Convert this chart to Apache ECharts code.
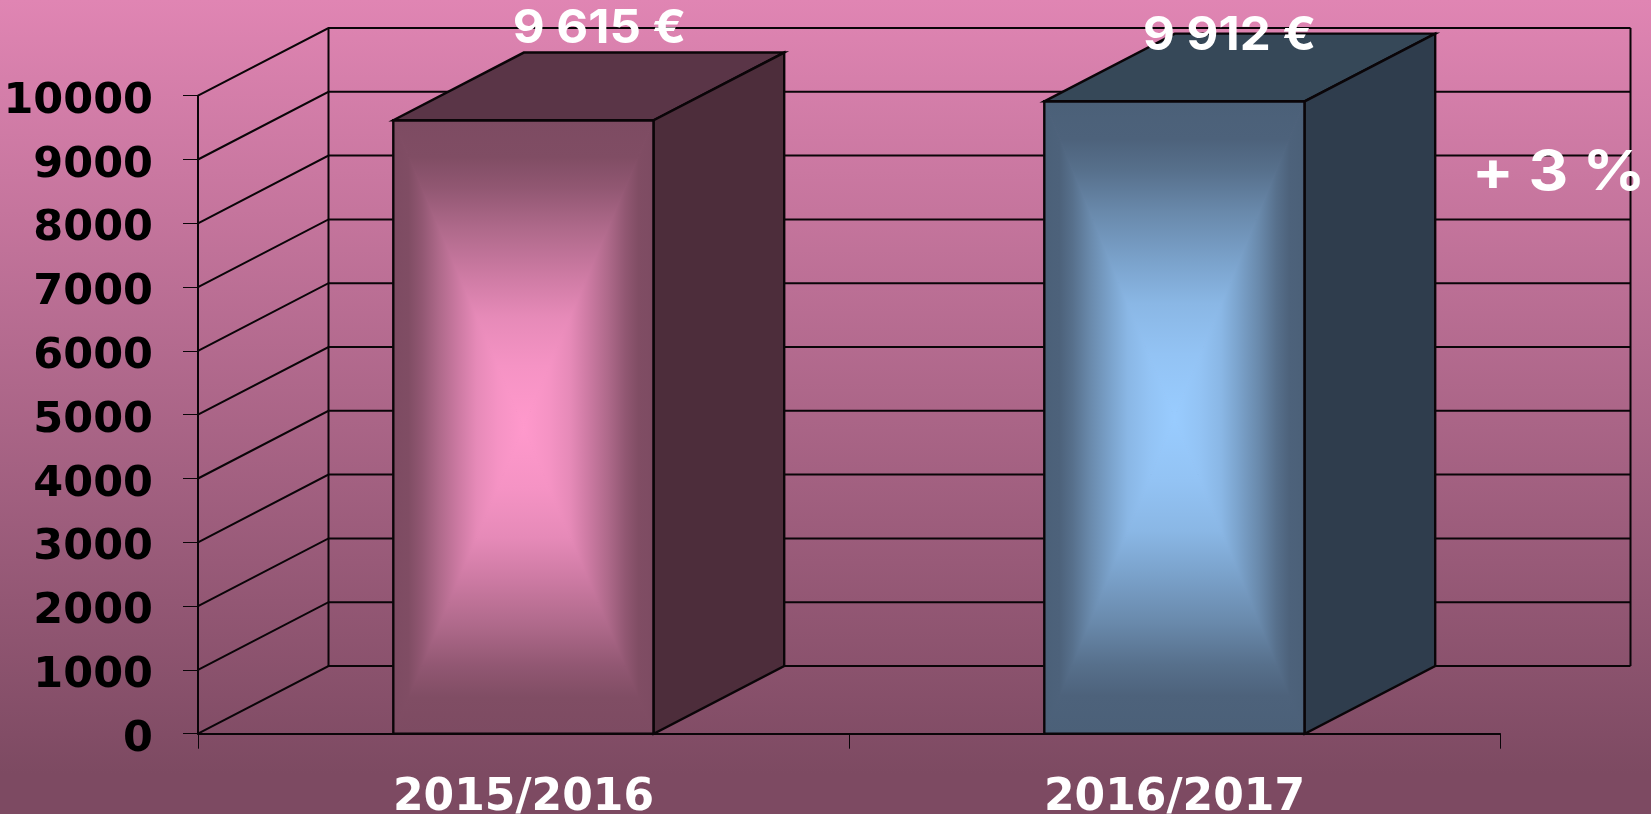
<!DOCTYPE html>
<html>
<head>
<meta charset="utf-8">
<style>html,body{margin:0;padding:0;background:#7d4a62}#c{width:1651px;height:814px}</style>
<script src="https://cdn.jsdelivr.net/npm/echarts@6/dist/echarts.min.js"></script>
</head>
<body>
<div id="c"></div>
<script>
const categories = ['2015/2016', '2016/2017'];
const barValues = [9615, 9912];
const yTicks = [0, 1000, 2000, 3000, 4000, 5000, 6000, 7000, 8000, 9000, 10000];
const changeLabel = '+ 3 %';

// styles (one entry per bar)
const barEdge = [[125, 75, 98], [75, 96, 120]];
const barCentre = [[255, 153, 204], [153, 204, 255]];
const barTop = ['#5a3547', '#364858'];
const barSide = ['#4d2d3b', '#2f3d4d'];
const labelOffset = [[76, -91], [55, -65]];
// colour ramp of the bar faces: [position from edge to centre, share of the centre colour]
const ramp = [[0, 0], [0.12, 0.02], [0.22, 0.15], [0.35, 0.38], [0.51, 0.62], [0.64, 0.81], [0.8, 0.92], [1, 1]];

const DEPTH_X = 130.5, DEPTH_Y = 67.7, BAR_RATIO = 0.4;
const FONT = 'Inter, Lato, sans-serif';
const WIDE_FONT = '"DejaVu Sans", sans-serif';
const LINE = { stroke: '#0a0508', lineWidth: 2, fill: null };
const BAR_LINE = { stroke: '#0a0508', lineWidth: 2.4 };

const fmt = v => String(v).replace(/\B(?=(\d{3})+$)/, ' ') + ' €';
const mix = (a, b, f) => 'rgb(' + a.map((c, k) => Math.round(c + (b[k] - c) * f)).join(',') + ')';
const grad = (x, y, x2, y2, a, b) => ({ type: 'linear', x, y, x2, y2,
  colorStops: ramp.map(([p, f]) => ({ offset: p, color: mix(a, b, f) })) });

function renderWall(params, api) {
  const cs = params.coordSys;
  const y = api.coord([0, api.value(1)])[1];
  const xL = cs.x, xR = cs.x + cs.width;
  const children = [{
    type: 'polyline',
    shape: { points: [[xL, y], [xL + DEPTH_X, y - DEPTH_Y], [xR + DEPTH_X, y - DEPTH_Y]] },
    style: LINE, silent: true
  }];
  if (params.dataIndex === 0) {
    const yTop = cs.y, yBot = cs.y + cs.height;
    [xL + DEPTH_X, xR + DEPTH_X].forEach(x => children.push({
      type: 'line',
      shape: { x1: x, y1: yBot - DEPTH_Y, x2: x, y2: yTop - DEPTH_Y },
      style: LINE, silent: true
    }));
  }
  return { type: 'group', children };
}

function renderBar(params, api) {
  const i = api.value(0), v = api.value(1);
  const top = api.coord([i, v]), base = api.coord([i, 0]);
  const w = api.size([1, 0])[0] * BAR_RATIO;
  const l = top[0] - w / 2, r = top[0] + w / 2, t = top[1], b = base[1];
  const cx = top[0], cy = (t + b) / 2;
  const e = barEdge[i], c = barCentre[i];
  const tri = (pts, fill) => ({ type: 'polygon', shape: { points: pts }, style: { fill, stroke: fill, lineWidth: 1 }, silent: true });
  return { type: 'group', children: [
    tri([[l, t], [l, b], [cx, cy]], grad(0, 0, 1, 0, e, c)),
    tri([[r, t], [r, b], [cx, cy]], grad(1, 0, 0, 0, e, c)),
    tri([[l, t], [r, t], [cx, cy]], grad(0, 0, 0, 1, e, c)),
    tri([[l, b], [r, b], [cx, cy]], grad(0, 1, 0, 0, e, c)),
    { type: 'rect', shape: { x: l, y: t, width: w, height: b - t }, style: { fill: null, ...BAR_LINE }, silent: true },
    { type: 'polygon', shape: { points: [[l, t], [r, t], [r + DEPTH_X, t - DEPTH_Y], [l + DEPTH_X, t - DEPTH_Y]] },
      style: { fill: barTop[i], ...BAR_LINE }, silent: true },
    { type: 'polygon', shape: { points: [[r, t], [r, b], [r + DEPTH_X, b - DEPTH_Y], [r + DEPTH_X, t - DEPTH_Y]] },
      style: { fill: barSide[i], ...BAR_LINE }, silent: true },
    { type: 'text', z2: 10, silent: true, scaleX: 1.07,
      x: cx + labelOffset[i][0], y: t + labelOffset[i][1],
      style: { text: fmt(v), fill: '#ffffff', font: '700 46px ' + FONT, align: 'center', verticalAlign: 'middle' } }
  ]};
}

const chart = echarts.init(document.getElementById('c'), null, { renderer: 'canvas' });
chart.setOption({
  animation: false,
  backgroundColor: { type: 'linear', x: 0, y: 0, x2: 0, y2: 1, colorStops: [
    { offset: 0, color: '#e085b3' }, { offset: 0.95, color: '#7d4a62' }, { offset: 1, color: '#7d4a62' }
  ]},
  grid: { left: 198, right: 151, top: 95.7, bottom: 80.3, containLabel: false, outerBoundsMode: 'none' },
  xAxis: {
    type: 'category', data: categories,
    axisLine: { lineStyle: { color: '#0a0508', width: 2 } },
    axisTick: { show: true, length: 15, lineStyle: { color: '#0a0508', width: 1 } },
    axisLabel: { color: '#ffffff', fontFamily: WIDE_FONT, fontWeight: 700, fontSize: 44, margin: 43, hideOverlap: false }
  },
  yAxis: {
    type: 'value', min: 0, max: 10000, interval: 1000,
    axisLine: { show: true, lineStyle: { color: '#0a0508', width: 2 } },
    axisTick: { show: true, length: 15, lineStyle: { color: '#0a0508', width: 1 } },
    splitLine: { show: false },
    axisLabel: { color: '#000000', fontFamily: WIDE_FONT, fontWeight: 700, fontSize: 43, margin: 45,
      verticalAlign: 'top', lineHeight: 12, formatter: v => String(v), hideOverlap: false }
  },
  graphic: [{
    type: 'text', x: 1472, y: 146, silent: true, z: 100, scaleX: 1.12,
    style: { text: changeLabel, fill: '#ffffff', font: '700 55px ' + FONT }
  }],
  series: [
    { type: 'custom', z: 1, coordinateSystem: 'cartesian2d', renderItem: renderWall,
      encode: { x: 0, y: 1 }, data: yTicks.map(v => [0, v]), silent: true },
    { type: 'custom', z: 2, coordinateSystem: 'cartesian2d', renderItem: renderBar,
      encode: { x: 0, y: 1 }, data: barValues.map((v, i) => [i, v]), silent: true }
  ]
});
</script>
</body>
</html>
